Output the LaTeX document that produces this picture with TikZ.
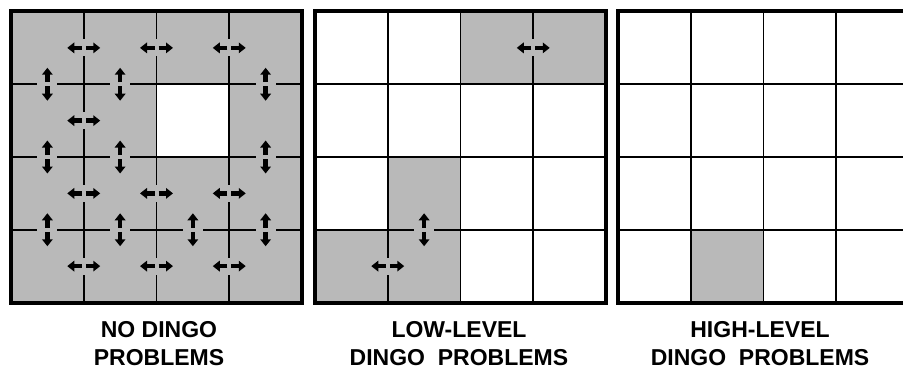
\documentclass[tikz,border=0pt]{standalone}
\usepackage{fontspec}
\setmainfont{Liberation Sans}
\usetikzlibrary{arrows.meta}
\definecolor{cellgray}{RGB}{185,185,185}
\tikzset{
  gridline/.style={line width=1.6pt},
  frame/.style={line width=4pt},
  moveto/.style={line width=4.4pt,-{Triangle[length=7pt,width=10.5pt]}},
  caption/.style={anchor=base,font=\bfseries\fontsize{23}{27}\selectfont},
}
% pair of arrows across a vertical edge / a horizontal edge
\newcommand{\movelr}[2]{%
  \begin{scope}[shift={({#1},{#2})}]
    \fill[cellgray] (-3,-8.5) rectangle (3,8.5);
    \draw[moveto] (-2,0) -- (-16.5,0);
    \draw[moveto] (2,0) -- (16.5,0);
  \end{scope}}
\newcommand{\moveud}[2]{%
  \begin{scope}[shift={({#1},{#2})}]
    \fill[cellgray] (-10,-3) rectangle (10,3);
    \draw[moveto] (0,-2) -- (0,-16.5);
    \draw[moveto] (0,2) -- (0,16.5);
  \end{scope}}
\def\cs{72.75}
\begin{document}
\begin{tikzpicture}[x=1pt,y=-1pt,line cap=butt]
  \fill[white] (0,0) rectangle (903,369);
  \useasboundingbox (0,0) rectangle (903,369);

  % no dingo problems
  \begin{scope}[shift={(11,11.5)}]
    \fill[cellgray] (0,0) rectangle (4*\cs,4*\cs);
    \fill[white] (2*\cs,\cs) rectangle (3*\cs,2*\cs);
    \foreach \k in {1,2,3} {
      \draw[gridline] (\k*\cs,0) -- (\k*\cs,4*\cs);
      \draw[gridline] (0,\k*\cs) -- (4*\cs,\k*\cs);
    }
    \foreach \i/\j in {1/0,2/0,3/0,1/1,1/2,2/2,3/2,1/3,2/3,3/3}
      \movelr{\i*\cs}{(\j+0.5)*\cs};
    \foreach \i/\j in {0/1,1/1,3/1,0/2,1/2,3/2,0/3,1/3,2/3,3/3}
      \moveud{(\i+0.5)*\cs}{\j*\cs};
    \draw[frame] (0,0) rectangle (4*\cs,4*\cs);
  \end{scope}

  % low-level dingo problems
  \begin{scope}[shift={(315,11.5)}]
    \fill[white] (0,0) rectangle (4*\cs,4*\cs);
    \foreach \i/\j in {2/0,3/0,1/2,0/3,1/3}
      \fill[cellgray] (\i*\cs,\j*\cs) rectangle ({(\i+1)*\cs},{(\j+1)*\cs});
    \foreach \k in {1,2,3} {
      \draw[gridline] (\k*\cs,0) -- (\k*\cs,4*\cs);
      \draw[gridline] (0,\k*\cs) -- (4*\cs,\k*\cs);
    }
    \movelr{3*\cs}{0.5*\cs};
    \movelr{1*\cs}{3.5*\cs};
    \moveud{1.5*\cs}{3*\cs};
    \draw[frame] (0,0) rectangle (4*\cs,4*\cs);
  \end{scope}

  % high-level dingo problems
  \begin{scope}[shift={(618,11.5)}]
    \fill[white] (0,0) rectangle (4*\cs,4*\cs);
    \fill[cellgray] (\cs,3*\cs) rectangle (2*\cs,4*\cs);
    \foreach \k in {1,2,3} {
      \draw[gridline] (\k*\cs,0) -- (\k*\cs,4*\cs);
      \draw[gridline] (0,\k*\cs) -- (4*\cs,\k*\cs);
    }
    \draw[frame] (0,0) rectangle (4*\cs,4*\cs);
  \end{scope}

  \node[caption] (no1) at (159,337) {NO DINGO};
  \node[caption] (no2) at (159,365) {PROBLEMS};
  \node[caption] (low1) at (459,337) {LOW-LEVEL};
  \node[caption] (low2) at (459,365) {DINGO\ \ PROBLEMS};
  \node[caption] (high1) at (760,337) {HIGH-LEVEL};
  \node[caption] (high2) at (760,365) {DINGO\ \ PROBLEMS};
\end{tikzpicture}
\end{document}
